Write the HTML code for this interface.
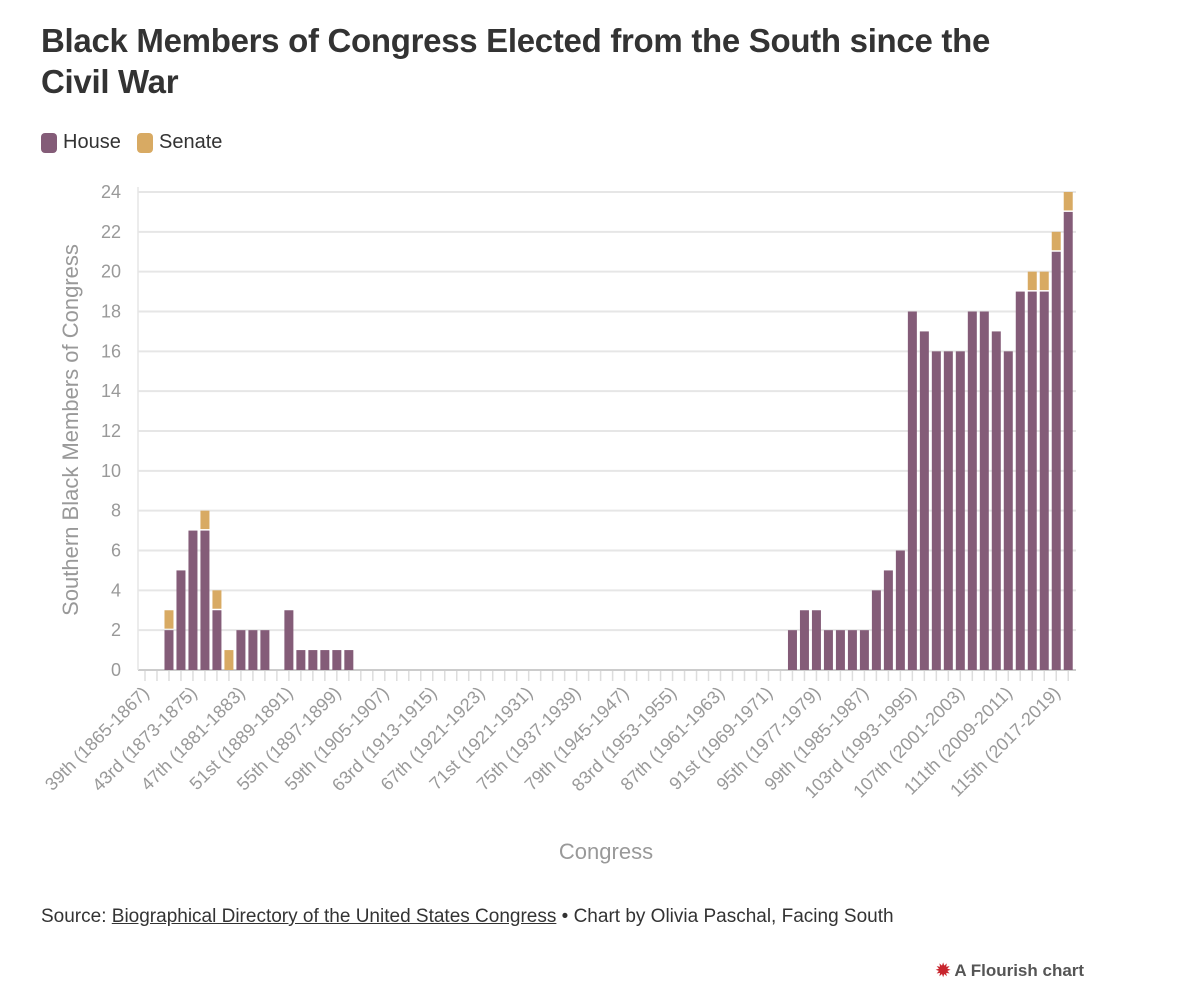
<!DOCTYPE html>
<html><head><meta charset="utf-8">
<style>
body{margin:0;background:#fff;font-family:"Liberation Sans",sans-serif;}
#wrap{position:relative;width:1200px;height:1004px;overflow:hidden;}
h1{position:absolute;left:41px;top:20px;margin:0;font-size:33px;line-height:41px;font-weight:bold;color:#333;width:990px;letter-spacing:-0.3px;}
.leg{position:absolute;top:131px;font-size:20px;color:#333;display:flex;align-items:center;}
.sw{width:16px;height:20px;border-radius:4px;display:inline-block;margin-right:6px;}
.src{position:absolute;left:41px;top:906px;font-size:19px;color:#333;}
.src u{text-decoration:underline;}
.fl{position:absolute;left:936px;top:961px;font-size:17px;font-weight:bold;color:#555;}
</style></head><body>
<div id="wrap">
<h1>Black Members of Congress Elected from the South since the Civil War</h1>
<div class="leg" style="left:41px"><span class="sw" style="background:#845c78"></span>House</div>
<div class="leg" style="left:137px"><span class="sw" style="background:#d8aa63"></span>Senate</div>
<svg id="chart" width="1200" height="1004" style="position:absolute;left:0;top:0"></svg>
<div class="src">Source: <u>Biographical Directory of the United States Congress</u> • Chart by Olivia Paschal, Facing South</div>
<div class="fl"><span style="color:#c8262e">✹</span> A Flourish chart</div>
</div>
<script>
const congressStart = 39;
const houseValues = [0,0,2,5,7,7,3,0,2,2,2,0,3,1,1,1,1,1,
 0,0,0,0,0,0,0,0,0,0,0,0,0,0,0,0,0,0,0,0,0,0,0,0,0,0,0,0,0,0,0,0,0,0,0,0,
 2,3,3,2,2,2,2,4,5,6,18,17,16,16,16,18,18,17,16,19,19,19,21,23];
const senateValues = [0,0,1,0,0,1,1,1,0,0,0,0,0,0,0,0,0,0,
 0,0,0,0,0,0,0,0,0,0,0,0,0,0,0,0,0,0,0,0,0,0,0,0,0,0,0,0,0,0,0,0,0,0,0,0,
 0,0,0,0,0,0,0,0,0,0,0,0,0,0,0,0,0,0,0,0,1,1,1,1];
const yTicks = [0,2,4,6,8,10,12,14,16,18,20,22,24];
const xTickLabels = ["39th (1865-1867)","43rd (1873-1875)","47th (1881-1883)","51st (1889-1891)","55th (1897-1899)","59th (1905-1907)","63rd (1913-1915)","67th (1921-1923)","71st (1921-1931)","75th (1937-1939)","79th (1945-1947)","83rd (1953-1955)","87th (1961-1963)","91st (1969-1971)","95th (1977-1979)","99th (1985-1987)","103rd (1993-1995)","107th (2001-2003)","111th (2009-2011)","115th (2017-2019)"];
const xTickIndex = [0,4,8,12,16,20,24,28,32,36,40,44,48,52,56,60,64,68,72,76];

const svg=document.getElementById('chart');const NS='http://www.w3.org/2000/svg';
const X0=145, PITCH=11.99, BW=9, Y0=670, YTOP=192, YMAX=24, PL=138, PR=1076;
const xS=i=>X0+i*PITCH;
const yS=v=>Y0-(v/YMAX)*(Y0-YTOP);
function mk(t,a){const e=document.createElementNS(NS,t);for(const k in a)e.setAttribute(k,a[k]);svg.appendChild(e);return e;}
yTicks.forEach(v=>{
 const l=mk('line',{x1:PL,x2:PR,y1:yS(v),y2:yS(v),stroke:v===0?'#ccc':'#e6e6e6','stroke-width':2});
 
 
 const t=mk('text',{x:121,y:yS(v)+6,'text-anchor':'end','font-size':18,fill:'#999','font-family':'Liberation Sans, sans-serif'});
 t.textContent=v;
 
 
});
const ax=mk('line',{x1:PL,x2:PL,y1:YTOP-5,y2:Y0,stroke:'#e6e6e6','stroke-width':1.5});


houseValues.forEach((h,i)=>{
 const tk=mk('line',{x1:xS(i),x2:xS(i),y1:Y0+1,y2:Y0+11,stroke:'#ddd','stroke-width':1.5});
 
 
 if(h>0){const r=mk('rect',{x:xS(i)-BW/2,y:yS(h),width:BW,height:yS(0)-yS(h),fill:'#845c78'});
  
  }
 const s=senateValues[i];
 if(s>0){const gap=h>0?1.5:0;const r=mk('rect',{x:xS(i)-BW/2,y:yS(h+s),width:BW,height:yS(h)-yS(h+s)-gap,fill:'#d8aa63'});
  
  }
});
xTickIndex.forEach((idx,k)=>{
 const x=xS(idx)+5,y=Y0+24;
 const t=mk('text',{x:x,y:y,'text-anchor':'end','font-size':18,fill:'#999','font-family':'Liberation Sans, sans-serif',transform:`rotate(-45 ${x} ${y})`});
 t.textContent=xTickLabels[k];
 
 
});
const yt=mk('text',{x:78,y:430,'text-anchor':'middle','font-size':22,fill:'#999','font-family':'Liberation Sans, sans-serif',transform:'rotate(-90 78 430)'});
yt.textContent='Southern Black Members of Congress';


const xt=mk('text',{x:606,y:859,'text-anchor':'middle','font-size':22,fill:'#999','font-family':'Liberation Sans, sans-serif'});
xt.textContent='Congress';


</script>
</body></html>
